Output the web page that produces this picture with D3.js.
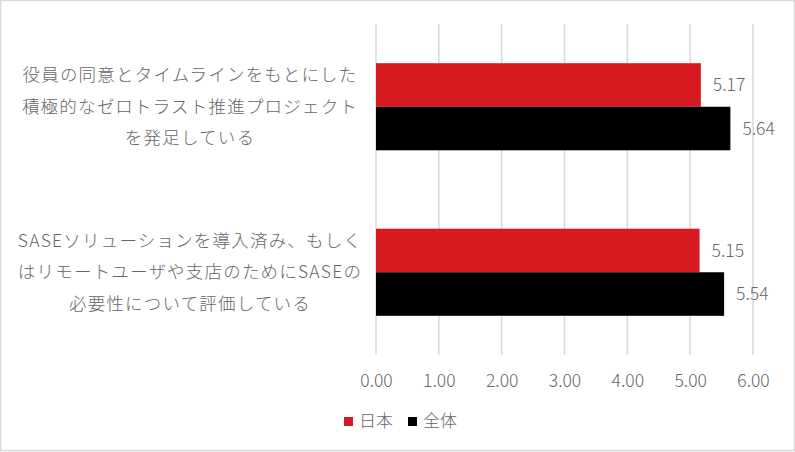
<!DOCTYPE html>
<html>
<head>
<meta charset="utf-8">
<script src="https://cdn.jsdelivr.net/npm/d3@7"></script>
<style>
  body { margin: 0; background: #fff; }
  text { font-family: "Noto Sans CJK JP", "Noto Sans", sans-serif; font-weight: 300; }
</style>
</head>
<body>
<div id="content"></div>
<script>
// chart data
var categories = ["cat1", "cat2"]
var categoryLines = [
  ["役員の同意とタイムラインをもとにした", "積極的なゼロトラスト推進プロジェクト", "を発足している"],
  ["SASEソリューションを導入済み、もしく", "はリモートユーザや支店のためにSASEの", "必要性について評価している"]
]
var seriesNames = ["日本", "全体"]
var seriesColors = ["#d71920", "#000000"]
var japanValues = [5.17, 5.15]
var overallValues = [5.64, 5.54]
var tickValues = [0, 1, 2, 3, 4, 5, 6]

var svgwidth = 795, svgheight = 452
var plot = {left: 376, right: 753, top: 24, bottom: 355}
var textColor = "#666666"

var svg = d3.select("#content").append("svg")
  .attr("width", svgwidth)
  .attr("height", svgheight)

// chart border
svg.append("rect")
  .attr("x", 0.5).attr("y", 0.5)
  .attr("width", svgwidth - 1).attr("height", svgheight - 2)
  .attr("fill", "#fff")
  .style("stroke", "#d9d9d9")
  .style("stroke-width", 1.5)

var xScale = d3.scaleLinear()
  .domain([0, 6])
  .range([plot.left, plot.right])

var yScale = d3.scaleBand()
  .domain(categories)
  .range([plot.top, plot.bottom])
  .padding(0)

var seriesScale = d3.scaleBand()
  .domain([0, 1])
  .range([0, yScale.bandwidth()])
  .paddingInner(0)
  .paddingOuter(0.9)

// gridlines
svg.append("g")
  .selectAll("line")
  .data(tickValues)
  .enter().append("line")
  .attr("x1", function(d) { return xScale(d) })
  .attr("x2", function(d) { return xScale(d) })
  .attr("y1", plot.top)
  .attr("y2", plot.bottom)
  .style("stroke", "#d9d9d9")
  .style("stroke-width", 1.5)

// x axis labels
var xAxis = svg.append("g")
  .attr("transform", "translate(0," + (plot.bottom + 26) + ")")
  .call(d3.axisBottom(xScale).tickValues(tickValues).tickFormat(d3.format(".2f")).tickSize(0).tickPadding(0))
xAxis.select(".domain").remove()
xAxis.selectAll("text")
  .attr("dy", "0.35em")
  .attr("fill", textColor)
  .style("font-family", '"Noto Sans CJK JP", sans-serif')
  .style("font-size", "17.5px")

// category labels
categories.forEach(function(c, i) {
  var cy = yScale(c) + yScale.bandwidth() / 2
  var lines = categoryLines[i]
  for (var j = 0; j < lines.length; j++) {
    svg.append("text")
      .attr("x", 190)
      .attr("y", cy + (j - (lines.length - 1) / 2) * 31.5)
      .attr("dy", "0.35em")
      .attr("text-anchor", "middle")
      .attr("fill", textColor)
      .style("font-size", "17.5px")
      .style("letter-spacing", "1.2px")
      .text(lines[j])
  }
})

// bars
var seriesData = [japanValues, overallValues]
seriesData.forEach(function(values, s) {
  for (var i = 0; i < categories.length; i++) {
    var y = yScale(categories[i]) + seriesScale(s)
    svg.append("rect")
      .attr("x", xScale(0))
      .attr("y", y)
      .attr("width", xScale(values[i]) - xScale(0))
      .attr("height", seriesScale.bandwidth())
      .attr("fill", seriesColors[s])
    svg.append("text")
      .attr("x", xScale(values[i]) + 12)
      .attr("y", y + seriesScale.bandwidth() / 2)
      .attr("dy", "0.35em")
      .attr("fill", textColor)
      .style("font-size", "17.5px")
      .text(values[i].toFixed(2))
  }
})

// legend
var legendX = [344, 408]
for (var i = 0; i < seriesNames.length; i++) {
  svg.append("rect")
    .attr("x", legendX[i])
    .attr("y", 417)
    .attr("width", 9)
    .attr("height", 9)
    .attr("fill", seriesColors[i])
  svg.append("text")
    .attr("x", legendX[i] + 15)
    .attr("y", 421.5)
    .attr("dy", "0.35em")
    .attr("fill", textColor)
    .style("font-size", "17px")
    .text(seriesNames[i])
}
</script>
</body>
</html>
